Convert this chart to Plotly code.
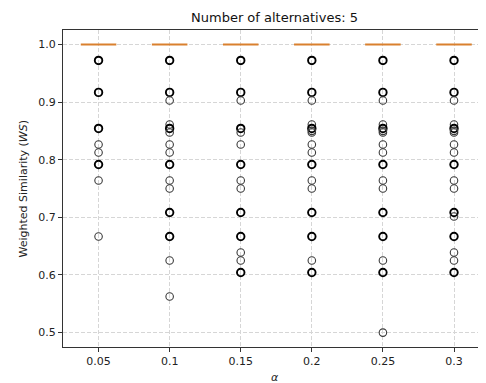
import plotly.graph_objects as go

ALPHAS = ["0.05", "0.1", "0.15", "0.2", "0.25", "0.3"]

# Box statistics (all collapsed at 1.0)
Q1 = [1.0, 1.0, 1.0, 1.0, 1.0, 1.0]
MEDIAN = [1.0, 1.0, 1.0, 1.0, 1.0, 1.0]
Q3 = [1.0, 1.0, 1.0, 1.0, 1.0, 1.0]
LOWER = [1.0, 1.0, 1.0, 1.0, 1.0, 1.0]
UPPER = [1.0, 1.0, 1.0, 1.0, 1.0, 1.0]

# Outliers (fliers) per alpha
FLIERS_005 = [0.9722, 0.9167, 0.8542, 0.8264, 0.8125, 0.7917, 0.7639, 0.6667]
FLIERS_010 = [0.9722, 0.9167, 0.9028, 0.8611, 0.8542, 0.8472, 0.8264, 0.8125,
              0.7917, 0.7639, 0.75, 0.7083, 0.6667, 0.625, 0.5625]
FLIERS_015 = [0.9722, 0.9167, 0.9028, 0.8542, 0.8472, 0.8264, 0.7917, 0.7639,
              0.75, 0.7083, 0.6667, 0.6389, 0.625, 0.6042]
FLIERS_020 = [0.9722, 0.9167, 0.9028, 0.8611, 0.8542, 0.85, 0.8472, 0.8264,
              0.8125, 0.7917, 0.7639, 0.75, 0.7083, 0.6667, 0.625, 0.6042]
FLIERS_025 = [0.9722, 0.9167, 0.9028, 0.8611, 0.8542, 0.85, 0.8472, 0.8264,
              0.8125, 0.7917, 0.7639, 0.75, 0.7083, 0.6667, 0.625, 0.6042, 0.5]
FLIERS_030 = [0.9722, 0.9167, 0.9028, 0.8611, 0.8542, 0.85, 0.8472, 0.8264,
              0.8125, 0.7917, 0.7639, 0.75, 0.7083, 0.7014, 0.6667, 0.6389,
              0.625, 0.6042]
FLIERS = [FLIERS_005, FLIERS_010, FLIERS_015, FLIERS_020, FLIERS_025, FLIERS_030]

# Outlier values that occur many times per alpha (overlapping markers look heavier)
FREQUENT_005 = [0.9722, 0.9167, 0.8542, 0.7917]
FREQUENT_010 = [0.9722, 0.9167, 0.8542, 0.7917, 0.7083, 0.6667]
FREQUENT_015 = [0.9722, 0.9167, 0.8542, 0.7917, 0.7083, 0.6667, 0.6042]
FREQUENT_020 = [0.9722, 0.9167, 0.8542, 0.7917, 0.7083, 0.6667, 0.6042]
FREQUENT_025 = [0.9722, 0.9167, 0.8542, 0.7917, 0.7083, 0.6667, 0.6042]
FREQUENT_030 = [0.9722, 0.9167, 0.8542, 0.7917, 0.7083, 0.6667, 0.6042]
FREQUENT = [FREQUENT_005, FREQUENT_010, FREQUENT_015,
            FREQUENT_020, FREQUENT_025, FREQUENT_030]

Y_TICKS = [0.5, 0.6, 0.7, 0.8, 0.9, 1.0]
Y_TICK_TEXT = ["0.5", "0.6", "0.7", "0.8", "0.9", "1.0"]

TITLE = "Number of alternatives: 5"
X_TITLE = "<i>α</i>"
Y_TITLE = "Weighted Similarity (<i>WS</i>)"

fig = go.Figure()

fig.add_trace(go.Box(
    x=ALPHAS, q1=Q1, median=MEDIAN, q3=Q3,
    lowerfence=LOWER, upperfence=UPPER,
    line=dict(color="#d9802e", width=2.0),
    fillcolor="rgba(0,0,0,0)",
    width=0.5, whiskerwidth=0.5,
    showlegend=False, hoverinfo="skip",
))

xs, ys, widths, colors = [], [], [], []
for a, vals, freq in zip(ALPHAS, FLIERS, FREQUENT):
    for v in vals:
        xs.append(a)
        ys.append(v)
        heavy = v in freq
        widths.append(1.9 if heavy else 1.1)
        colors.append("#000000" if heavy else "#3a3a3a")

fig.add_trace(go.Scatter(
    x=xs, y=ys, mode="markers",
    marker=dict(symbol="circle-open", size=7.5, color=colors,
                line=dict(color=colors, width=widths)),
    showlegend=False, hoverinfo="skip",
))

axis_font = dict(family="DejaVu Sans", size=11, color="#222")

# The page body has an 8px margin, so the figure is sized to fill the rest.
fig.update_layout(
    width=478, height=375,
    margin=dict(l=55, r=0, t=22, b=36, autoexpand=False),
    paper_bgcolor="white", plot_bgcolor="white",
    font=dict(family="DejaVu Sans", size=11, color="#222"),
    annotations=[
        dict(text=TITLE, xref="paper", yref="paper", x=0.501, y=1,
             xanchor="center", yanchor="middle", yshift=13, showarrow=False,
             font=dict(family="DejaVu Sans", size=13, color="#111")),
        dict(text=X_TITLE, xref="paper", yref="paper", x=0.501, y=0,
             xanchor="center", yanchor="middle", yshift=-30, showarrow=False,
             font=dict(family="DejaVu Sans", size=11, color="#222")),
        dict(text=Y_TITLE, xref="paper", yref="paper", x=0, y=0.5,
             xanchor="center", yanchor="middle", xshift=-40, textangle=-90,
             showarrow=False,
             font=dict(family="DejaVu Sans", size=11, color="#222")),
    ],
)

fig.update_xaxes(
    type="category", categoryorder="array", categoryarray=ALPHAS,
    range=[-0.5, 5.45], automargin=False,
    showline=True, linecolor="#333", linewidth=1, mirror=True,
    ticks="outside", ticklen=4, tickcolor="#333",
    showgrid=True, gridcolor="#d6d6d6", griddash="4px,2px", gridwidth=1,
    tickfont=axis_font,
    zeroline=False,
)

fig.update_yaxes(
    range=[0.475, 1.025], automargin=False,
    tickvals=Y_TICKS, ticktext=Y_TICK_TEXT,
    showline=True, linecolor="#333", linewidth=1, mirror=True,
    ticks="outside", ticklen=4, tickcolor="#333",
    showgrid=True, gridcolor="#d6d6d6", griddash="4px,2px", gridwidth=1,
    tickfont=axis_font,
    zeroline=False,
)

fig.write_html("out.html")
